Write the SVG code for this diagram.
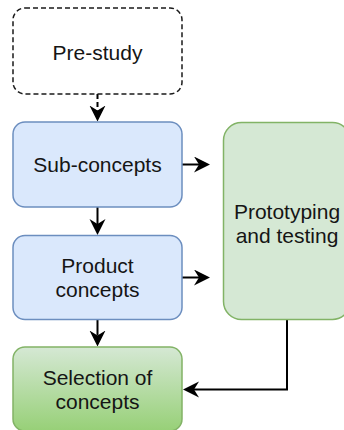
<svg xmlns="http://www.w3.org/2000/svg" width="344" height="430" viewBox="0 0 344 430">
  <style>
    .box { stroke-width: 1.5; }
    .dashed { fill: #ffffff; stroke: #1a1a1a; stroke-dasharray: 5 3; }
    .blue { fill: #dae8fc; stroke: #6c8ebf; }
    .green { fill: #d5e8d4; stroke: #82b366; }
    .grad { fill: url(#greenGrad); stroke: #82b366; }
    .label { font-family: "Liberation Sans", Arial, Helvetica, sans-serif; font-size: 21px; fill: #151515; text-anchor: middle; }
    .edge { fill: none; stroke: #000000; stroke-width: 2; marker-end: url(#arrow); }
    .edge-dashed { stroke-dasharray: 5 3; }
  </style>
  <defs>
    <linearGradient id="greenGrad" x1="0" y1="0" x2="0" y2="1">
      <stop offset="0" stop-color="#d5e8d4"/>
      <stop offset="1" stop-color="#97d077"/>
    </linearGradient>
    <!-- classic notched arrowhead, anchored at its notch -->
    <marker id="arrow" markerUnits="userSpaceOnUse" markerWidth="18" markerHeight="18" refX="5" refY="8" orient="auto">
      <path d="M0,0 L16,8 L0,16 L5,8 Z" fill="#000000"/>
    </marker>
  </defs>

  <rect width="344" height="430" fill="#ffffff"/>

  <g id="connectors">
    <path class="edge edge-dashed" d="M97.5,94 V110.5"/>
    <path class="edge" d="M97.5,207 V224"/>
    <path class="edge" d="M97.5,319.5 V335.5"/>
    <path class="edge" d="M182,164.5 H199"/>
    <path class="edge" d="M182,277.5 H199"/>
    <path class="edge" d="M287,319.5 V389.5 H194"/>
  </g>

  <g id="pre-study">
    <rect class="box dashed" x="13" y="8" width="169" height="86" rx="12"/>
    <text class="label" x="97.5" y="60">Pre-study</text>
  </g>

  <g id="sub-concepts">
    <rect class="box blue" x="13" y="122" width="169" height="85" rx="12"/>
    <text class="label" x="97.5" y="172">Sub-concepts</text>
  </g>

  <g id="product-concepts">
    <rect class="box blue" x="13" y="235.5" width="169" height="84" rx="12"/>
    <text class="label" x="97.5" y="273">Product</text>
    <text class="label" x="97.5" y="297">concepts</text>
  </g>

  <g id="selection-of-concepts">
    <rect class="box grad" x="13" y="347" width="169" height="84" rx="12"/>
    <text class="label" x="97.5" y="385">Selection of</text>
    <text class="label" x="97.5" y="409">concepts</text>
  </g>

  <g id="prototyping-and-testing">
    <rect class="box green" x="223.5" y="122.5" width="127" height="197" rx="18"/>
    <text class="label" x="287" y="219">Prototyping</text>
    <text class="label" x="287" y="243">and testing</text>
  </g>
</svg>
